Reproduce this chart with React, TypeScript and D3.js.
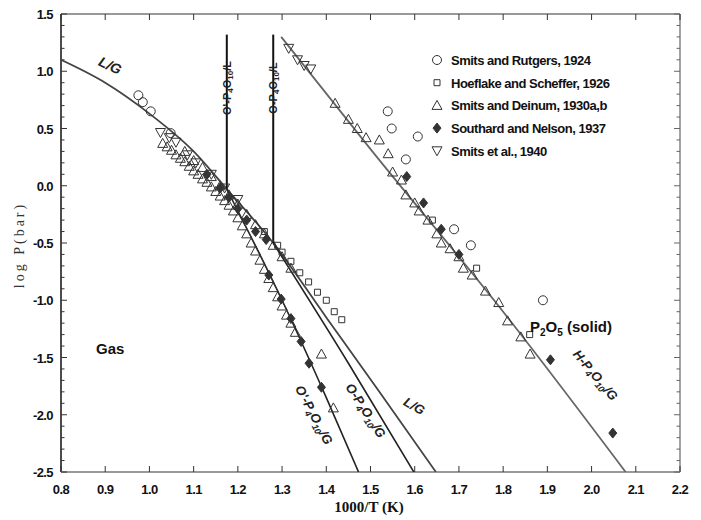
import React from 'react';
import * as d3 from 'd3';

const W = 701;
const H = 520;

// axis ticks
const xTicks = [0.8, 0.9, 1.0, 1.1, 1.2, 1.3, 1.4, 1.5, 1.6, 1.7, 1.8, 1.9, 2.0, 2.1, 2.2];
const xTickLabels = ['0.8', '0.9', '1.0', '1.1', '1.2', '1.3', '1.4', '1.5', '1.6', '1.7', '1.8', '1.9', '2.0', '2.1', '2.2'];
const yTicks = [1.5, 1.0, 0.5, 0.0, -0.5, -1.0, -1.5, -2.0, -2.5];
const yTickLabels = ['1.5', '1.0', '0.5', '0.0', '-0.5', '-1.0', '-1.5', '-2.0', '-2.5'];

const legendLabels = [
  'Smits and Rutgers, 1924',
  'Hoeflake and Scheffer, 1926',
  'Smits and Deinum, 1930a,b',
  'Southard and Nelson, 1937',
  'Smits et al., 1940',
];

// Smits and Rutgers, 1924 (open circles)
const rutgersX = [0.975, 0.985, 1.003, 1.048, 1.539, 1.548, 1.58, 1.607, 1.689, 1.727, 1.89];
const rutgersY = [0.79, 0.73, 0.65, 0.46, 0.65, 0.5, 0.23, 0.43, -0.38, -0.52, -1.0];

// Hoeflake and Scheffer, 1926 (open squares)
const hoeflakeX = [1.26, 1.29, 1.3, 1.32, 1.34, 1.36, 1.38, 1.4, 1.418, 1.435, 1.64, 1.74, 1.86];
const hoeflakeY = [-0.4, -0.52, -0.58, -0.66, -0.76, -0.84, -0.93, -1.0, -1.1, -1.17, -0.3, -0.72, -1.3];

// Smits and Deinum, 1930a,b (open triangles)
const deinumX = [
  1.03, 1.04, 1.05, 1.06, 1.07, 1.08, 1.09, 1.1, 1.11, 1.12, 1.13, 1.14, 1.15, 1.16, 1.17, 1.18,
  1.19, 1.2, 1.21, 1.22, 1.23, 1.24, 1.25, 1.26, 1.27, 1.28, 1.29, 1.3, 1.31, 1.32, 1.33,
  1.08, 1.1, 1.12, 1.14, 1.16, 1.18, 1.2, 1.22, 1.24, 1.26, 1.28, 1.3, 1.32,
  1.389, 1.416,
  1.42, 1.45, 1.47, 1.49, 1.52, 1.54, 1.55, 1.57, 1.58, 1.6, 1.61, 1.63, 1.65, 1.66, 1.68,
  1.7, 1.71, 1.73, 1.76, 1.79, 1.81, 1.84, 1.861,
];
const deinumY = [
  0.37, 0.34, 0.31, 0.27, 0.24, 0.21, 0.17, 0.13, 0.1, 0.06, 0.03, -0.01, -0.05, -0.09, -0.13, -0.17,
  -0.22, -0.28, -0.35, -0.42, -0.5, -0.57, -0.65, -0.73, -0.81, -0.89, -0.97, -1.05, -1.13, -1.2, -1.28,
  0.3, 0.22, 0.16, 0.08, 0.0, -0.08, -0.16, -0.25, -0.34, -0.42, -0.52, -0.62, -0.72,
  -1.47, -1.94,
  0.72, 0.58, 0.5, 0.42, 0.4, 0.28, 0.12, 0.05, -0.08, -0.15, -0.22, -0.3, -0.42, -0.5, -0.55,
  -0.62, -0.72, -0.78, -0.92, -1.02, -1.18, -1.32, -1.47,
];

// Southard and Nelson, 1937 (filled diamonds)
const southardX = [
  1.13, 1.16, 1.18, 1.2, 1.22, 1.24, 1.264, 1.27, 1.298, 1.32, 1.343, 1.361, 1.389,
  1.582, 1.62, 1.66, 1.7, 1.907, 2.048,
];
const southardY = [
  0.1, -0.02, -0.1, -0.2, -0.3, -0.4, -0.47, -0.78, -0.99, -1.16, -1.36, -1.55, -1.76,
  0.08, -0.15, -0.38, -0.6, -1.52, -2.16,
];

// Smits et al., 1940 (open inverted triangles)
const smitsX = [1.315, 1.335, 1.35, 1.365, 1.025, 1.045, 1.06, 1.086, 1.105, 1.14, 1.17, 1.2];
const smitsY = [1.2, 1.1, 1.05, 1.02, 0.465, 0.42, 0.38, 0.27, 0.2, 0.1, -0.02, -0.12];

// phase boundary curves
const lgX = [0.8, 0.9, 1.0, 1.1, 1.175, 1.28, 1.4, 1.52, 1.648];
const lgY = [1.1, 0.9, 0.63, 0.3, -0.03, -0.5, -1.15, -1.8, -2.5];
const oPrimeGX = [1.175, 1.3, 1.4, 1.473];
const oPrimeGY = [-0.03, -1.0, -1.85, -2.5];
const oGX = [1.28, 1.45, 1.598];
const oGY = [-0.5, -1.55, -2.5];
const hGX = [1.298, 1.5, 1.8, 2.077];
const hGY = [1.3, 0.32, -1.1, -2.5];
const meltX = [1.175, 1.28];
const meltTop = [1.32, 1.32];
const meltBottom = [-0.03, -0.5];

const symbolPath = (kind: string) => {
  switch (kind) {
    case 'circle':
      return 'M4.5,0A4.5,4.5 0 1,1 -4.5,0A4.5,4.5 0 1,1 4.5,0Z';
    case 'square':
      return 'M-3,-3H3V3H-3Z';
    case 'triangle':
      return 'M0,-5L5,4H-5Z';
    case 'diamond':
      return 'M0,-5L4,0L0,5L-4,0Z';
    default:
      return 'M0,5L5,-4H-5Z';
  }
};

const SubLabel = ({ x, y, angle, pre }: { x: number; y: number; angle: number; pre: string }) => (
  <text
    transform={`translate(${x},${y}) rotate(${angle})`}
    textAnchor="middle"
    fontFamily="Liberation Sans, Arial, sans-serif"
    fontWeight="bold"
    fontStyle="italic"
    fontSize={13}
    fill="#222"
  >
    {pre}-P<tspan fontSize={9} dy={3}>4</tspan>
    <tspan dy={-3}>O</tspan>
    <tspan fontSize={9} dy={3}>10</tspan>
    <tspan dy={-3}>/G</tspan>
  </text>
);

const App = () => {
  const x = d3.scaleLinear().domain([0.8, 2.2]).range([61, 680]);
  const y = d3.scaleLinear().domain([-2.5, 1.5]).range([472, 14]);

  const line = (xs: number[], ys: number[]) =>
    d3
      .line<number>()
      .x((d) => x(d))
      .y((_, i) => y(ys[i]))
      .curve(d3.curveMonotoneX)(xs) || '';

  const minorY = d3.range(-25, 16).map((v) => v / 10);

  const series = [
    { xs: rutgersX, ys: rutgersY, kind: 'circle', fill: 'none' },
    { xs: hoeflakeX, ys: hoeflakeY, kind: 'square', fill: 'none' },
    { xs: deinumX, ys: deinumY, kind: 'triangle', fill: 'none' },
    { xs: southardX, ys: southardY, kind: 'diamond', fill: '#333' },
    { xs: smitsX, ys: smitsY, kind: 'down', fill: 'none' },
  ];

  const tickFont = 'Liberation Sans, Arial, sans-serif';

  return (
    <svg width={W} height={H} style={{ position: 'absolute', left: 0, top: 0, background: '#fff' }}>
      <defs>
        <clipPath id="plot">
          <rect x={61} y={14} width={619} height={458} />
        </clipPath>
      </defs>

      {/* frame */}
      <line x1={61} y1={14} x2={680} y2={14} stroke="#333" strokeWidth={1} />
      <line x1={680} y1={14} x2={680} y2={472} stroke="#666" strokeWidth={1.2} />
      <line x1={61} y1={14} x2={61} y2={472} stroke="#111" strokeWidth={1.5} />
      <line x1={61} y1={472} x2={680} y2={472} stroke="#999" strokeWidth={2} />

      {/* x ticks */}
      {xTicks.map((t, i) => (
        <g key={`xt${i}`}>
          <line x1={x(t)} x2={x(t)} y1={472} y2={466} stroke="#333" />
          <line x1={x(t)} x2={x(t)} y1={14} y2={20} stroke="#333" />
          <text
            x={x(t)}
            y={494}
            textAnchor="middle"
            fontFamily={tickFont}
            fontWeight="bold"
            fontSize={13}
            letterSpacing={-0.6}
            fill="#111"
          >
            {xTickLabels[i]}
          </text>
        </g>
      ))}

      {/* y ticks */}
      {minorY.map((t, i) => {
        const major = Math.abs(t * 2 - Math.round(t * 2)) < 1e-6;
        const len = major ? 6 : 3.5;
        return (
          <g key={`ym${i}`}>
            <line x1={61} x2={61 + len} y1={y(t)} y2={y(t)} stroke="#333" />
            <line x1={680} x2={680 - len} y1={y(t)} y2={y(t)} stroke="#666" />
          </g>
        );
      })}
      {yTicks.map((t, i) => (
        <text
          key={`yl${i}`}
          x={53}
          y={y(t) + 5}
          textAnchor="end"
          fontFamily={tickFont}
          fontWeight="bold"
          fontSize={13}
          letterSpacing={-0.6}
          fill="#111"
        >
          {yTickLabels[i]}
        </text>
      ))}

      {/* axis titles */}
      <text
        x={369}
        y={512}
        textAnchor="middle"
        fontFamily="Liberation Serif, Times New Roman, serif"
        fontWeight="bold"
        fontSize={15}
        fill="#111"
      >
        1000/T (K)
      </text>
      <text
        transform={`translate(24,245) rotate(-90)`}
        textAnchor="middle"
        fontFamily="Liberation Serif, Times New Roman, serif"
        fontSize={14}
        letterSpacing={3}
        fill="#333"
      >
        log P(bar)
      </text>

      {/* curves */}
      <g clipPath="url(#plot)" fill="none">
        <path d={line(lgX, lgY)} stroke="#444" strokeWidth={1.8} />
        <path d={line(oPrimeGX, oPrimeGY)} stroke="#222" strokeWidth={1.6} />
        <path d={line(oGX, oGY)} stroke="#222" strokeWidth={1.6} />
        <path d={line(hGX, hGY)} stroke="#666" strokeWidth={1.8} />
        {meltX.map((m, i) => (
          <line key={`m${i}`} x1={x(m)} x2={x(m)} y1={y(meltTop[i])} y2={y(meltBottom[i])} stroke="#111" strokeWidth={2} />
        ))}
      </g>

      {/* melting line labels */}
      {meltX.map((m, i) => (
        <text
          key={`ml${i}`}
          transform={`translate(${x(m) + 4},88) rotate(-90)`}
          textAnchor="middle"
          fontFamily="Liberation Sans, Arial, sans-serif"
          fontWeight="bold"
          fontSize={11}
          fill="#222"
        >
          {i === 0 ? "O'" : 'O'}-P<tspan fontSize={8} dy={2}>4</tspan>
          <tspan dy={-2}>O</tspan>
          <tspan fontSize={8} dy={2}>10</tspan>
          <tspan dy={-2}>/L</tspan>
        </text>
      ))}

      {/* data points */}
      {series.map((s, si) =>
        s.xs.map((v, i) => (
          <path
            key={`p${si}-${i}`}
            d={symbolPath(s.kind)}
            transform={`translate(${x(v)},${y(s.ys[i])})`}
            fill={s.fill}
            stroke="#333"
            strokeWidth={1}
          />
        ))
      )}

      {/* curve labels */}
      <text
        transform="translate(108,70) rotate(25)"
        textAnchor="middle"
        fontFamily="Liberation Sans, Arial, sans-serif"
        fontWeight="bold"
        fontStyle="italic"
        fontSize={14}
        fill="#222"
      >
        L/G
      </text>
      <SubLabel x={310} y={417} angle={62} pre="O'" />
      <SubLabel x={362} y={413} angle={57} pre="O" />
      <text
        transform="translate(412,410) rotate(30)"
        textAnchor="middle"
        fontFamily="Liberation Sans, Arial, sans-serif"
        fontWeight="bold"
        fontStyle="italic"
        fontSize={13}
        fill="#222"
      >
        L/G
      </text>
      <SubLabel x={592} y={378} angle={50} pre="H" />

      {/* region labels */}
      <text x={96} y={354} fontFamily="Liberation Sans, Arial, sans-serif" fontWeight="bold" fontSize={15} fill="#111">
        Gas
      </text>
      <text x={530} y={332} fontFamily="Liberation Sans, Arial, sans-serif" fontWeight="bold" fontSize={15} fill="#111">
        P<tspan fontSize={10} dy={4}>2</tspan>
        <tspan dy={-4}>O</tspan>
        <tspan fontSize={10} dy={4}>5</tspan>
        <tspan dy={-4}> (solid)</tspan>
      </text>

      {/* legend */}
      {legendLabels.map((l, i) => (
        <g key={`lg${i}`} transform={`translate(437,${60 + i * 22.7})`}>
          <path d={symbolPath(series[i].kind)} fill={series[i].fill} stroke="#333" strokeWidth={1} />
          <text x={14} y={5} fontFamily={tickFont} fontWeight="bold" fontSize={13} letterSpacing={-0.5} fill="#111">
            {l}
          </text>
        </g>
      ))}
    </svg>
  );
};

export default App;
